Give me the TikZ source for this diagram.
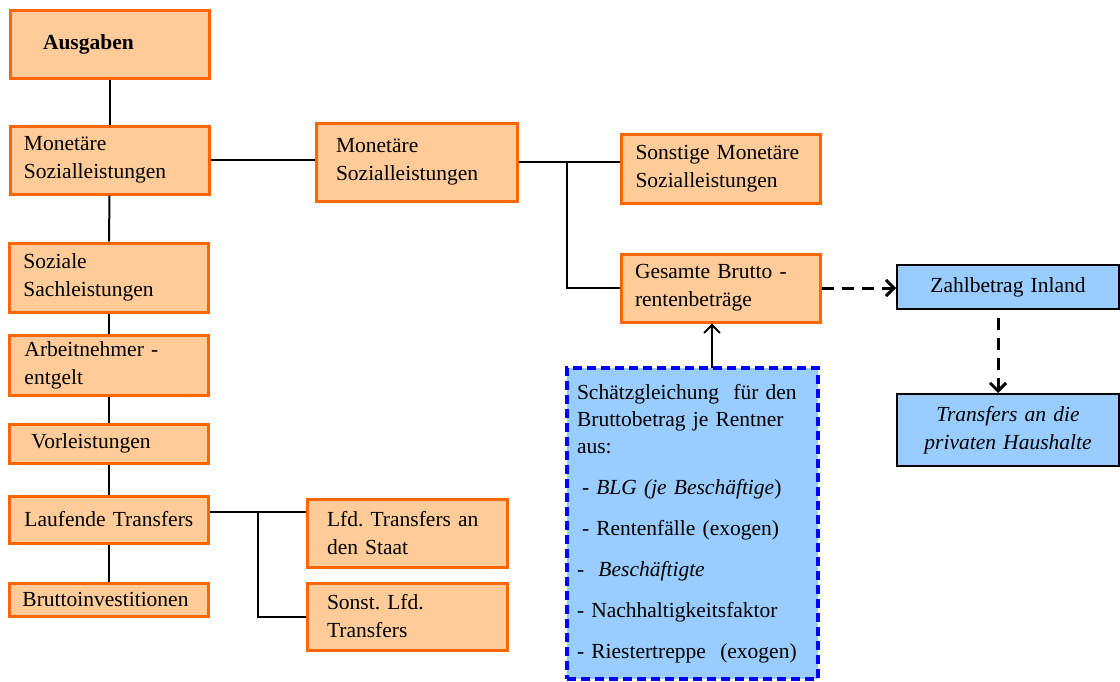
\documentclass[tikz,border=0pt]{standalone}
\usepackage{fontspec}
\setmainfont{Liberation Serif}
\usetikzlibrary{arrows.meta,positioning}
\definecolor{pfirsich}{HTML}{FFCC99}
\definecolor{rahmen}{HTML}{FF6600}
\definecolor{hellblau}{HTML}{99CCFF}
\definecolor{blaurand}{HTML}{0000FF}
\frenchspacing
\tikzset{
    %Define style for orange boxes
    kasten/.style={
           rectangle,
           draw=rahmen, line width=1.5pt,
           fill=pfirsich,
           minimum width=99.5pt,
           align=left},
    %Define style for blue boxes
    zielkasten/.style={
           rectangle,
           draw=black, line width=1pt,
           fill=hellblau,
           minimum width=111pt,
           text width=100pt,
           align=center},
    schaetz/.style={
           rectangle,
           draw=blaurand, line width=2pt,
           dash pattern=on 4.5pt off 2.5pt,
           fill=hellblau,
           align=left},
    % Define line and arrow styles
    verb/.style={line width=1pt},
    pfeil/.style={
           verb,
           -{Straight Barb[length=4pt,width=8pt]}},
    strichpfeil/.style={
           line width=1.5pt,
           dash pattern=on 6pt off 4pt,
           -{Straight Barb[length=4pt,width=8pt]}}
}

\begin{document}
\begin{tikzpicture}[x=0.5pt,y=-0.5pt,font=\fontsize{10.75pt}{14pt}\selectfont]
\useasboundingbox (0,0) rectangle (1120,681);

\node[kasten, minimum height=34pt, inner xsep=16.5pt, text width=66.5pt] (ausgaben) at (109.5,44) {\textbf{Ausgaben}};
\node[kasten, minimum height=34pt, inner xsep=7pt, text width=85.5pt] (monL) at (109.5,160) {Monetäre\\Sozialleistungen};
\node[kasten, minimum height=34.5pt, inner xsep=7pt, text width=85.5pt] (soziale) at (109,277.5) {Soziale\\Sachleistungen};
\node[kasten, minimum height=28.5pt, inner xsep=7.5pt, text width=84.5pt] (arbeit) at (109,365.5) {Arbeitnehmer -\\entgelt};
\node[kasten, minimum height=19.5pt, inner xsep=11pt, text width=77.5pt] (vorl) at (109,443.5) {Vorleistungen};
\node[kasten, minimum height=23.5pt, inner xsep=7.5pt, text width=84.5pt] (lauf) at (109,519.5) {Laufende Transfers};
\node[kasten, minimum height=16.5pt, inner xsep=6.5pt, text width=86.5pt] (brutto) at (109,599.5) {Bruttoinvestitionen};

\node[kasten, minimum width=100pt, minimum height=34pt, inner xsep=10pt, text width=80pt] (lfd) at (407,533) {Lfd. Transfers an\\den Staat};
\node[kasten, minimum width=100pt, minimum height=33.5pt, inner xsep=10pt, text width=80pt] (sonstL) at (407,616.5) {Sonst. Lfd.\\Transfers};

\node[kasten, minimum width=100.5pt, minimum height=39pt, inner xsep=10pt, text width=80.5pt] (monM) at (416.5,162) {Monetäre\\Sozialleistungen};
\node[kasten, minimum height=34.5pt, inner xsep=7pt, text width=85.5pt] (sonst) at (721,168.5) {Sonstige Monetäre\\Sozialleistungen};
\node[kasten, minimum height=34pt, inner xsep=7pt, text width=85.5pt] (ges) at (720.5,288) {Gesamte Brutto -\\rentenbeträge};

\node[zielkasten, minimum height=22pt] (zahl) at (1008,287) {Zahlbetrag Inland};
\node[zielkasten, minimum height=36pt] (trans) at (1008,430) {\textit{Transfers an die\\privaten Haushalte}};

\node[schaetz, minimum width=125.5pt, minimum height=155.5pt, inner xsep=5pt, text width=115.5pt,
      font=\fontsize{10.75pt}{13.5pt}\selectfont] (schaetz) at (692.5,523.5)
      {Schätzgleichung\ \ für den\\Bruttobetrag je Rentner\\aus:\\[7pt]\hspace*{2.5pt}- \textit{BLG (je Beschäftige})\\[7pt]\hspace*{2.5pt}- Rentenfälle (exogen)\\[7pt]-\ \ \textit{Beschäftigte}\\[7pt]- Nachhaltigkeitsfaktor\\[7pt]- Riestertreppe\ \ (exogen)};

% left column
\foreach \a/\b in {ausgaben/monL, monL/soziale, soziale/arbeit, arbeit/vorl, vorl/lauf, lauf/brutto}
    \draw[verb] (\a) -- (\b);

% branches
\coordinate (astM) at (567,0);
\coordinate (astL) at (258,512);
\draw[verb] (monL.east) -- (monL.east -| monM.west);
\draw[verb] (monM.east) -- (monM.east -| sonst.west);
\draw[verb] (monM.east -| astM) |- (ges.west);
\draw[verb] (lauf.east |- astL) -- (astL -| lfd.west);
\draw[verb] (astL) |- (sonstL.west);

% arrows
\coordinate (pfeilfuss) at (712,368);
\draw[pfeil] (pfeilfuss) -- (pfeilfuss |- ges.south);
\draw[strichpfeil] (ges.east) -- (ges.east -| zahl.west);
\draw[strichpfeil, shorten <=4pt] ([xshift=-5pt]zahl.south) -- ([xshift=-5pt]trans.north);

\end{tikzpicture}
\end{document}
